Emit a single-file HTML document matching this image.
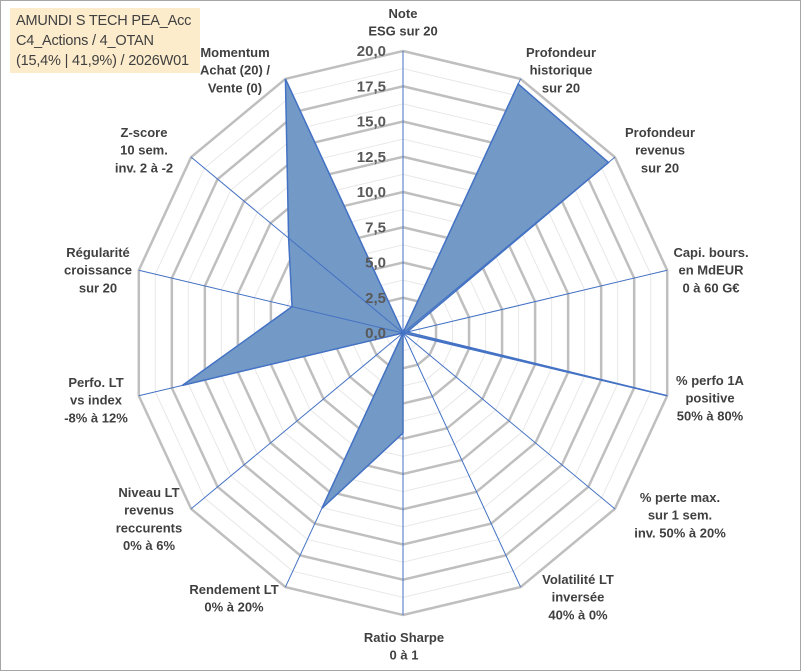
<!DOCTYPE html>
<html><head><meta charset="utf-8"><style>
body{margin:0;background:#fff}
#wrap{position:relative;width:801px;height:671px;overflow:hidden;font-family:"Liberation Sans",sans-serif}
#frame{position:absolute;left:0;top:0;width:799px;height:669px;border:1px solid #a6a6a6}
#title{position:absolute;left:10px;top:8px;width:190px;height:65px;background:#fdeccc;color:#404040;font-size:14.5px;line-height:20px;padding:3px 0 0 6px;box-sizing:border-box;white-space:nowrap;letter-spacing:-0.2px}
.lbl{font-weight:bold;font-size:13px;fill:#404040;text-anchor:middle}
.tick{font-weight:bold;font-size:15px;fill:#595959;text-anchor:end}
</style></head><body>
<div id="wrap">
<div id="frame"></div>
<svg id="chart" width="801" height="671" style="position:absolute;left:0;top:0"></svg>
<div id="title">AMUNDI S TECH PEA_Acc<br>C4_Actions / 4_OTAN<br>(15,4% | 41,9%) / 2026W01</div>
</div>
<script>
const categories=[["Note","ESG sur 20"],["Profondeur","historique","sur 20"],["Profondeur","revenus","sur 20"],["Capi. bours.","en MdEUR","0 à 60 G€"],["% perfo 1A","positive","50% à 80%"],["% perte max.","sur 1 sem.","inv. 50% à 20%"],["Volatilité LT","inversée","40% à 0%"],["Ratio Sharpe","0 à 1"],["Rendement LT","0% à 20%"],["Niveau LT","revenus","reccurents","0% à 6%"],["Perfo. LT","vs index","-8% à 12%"],["Régularité","croissance","sur 20"],["Z-score","10 sem.","inv. 2 à -2"],["Momentum","Achat (20) /","Vente (0)"]];
const values=[0,19.6,19.4,0.3,20,0,0,7.1,13.8,0,16.7,8.4,10.8,20];
const tickLabels=["0,0","2,5","5,0","7,5","10,0","12,5","15,0","17,5","20,0"];
const labelPos=[[403,13],[561,52],[660,132],[711,252],[710,380],[680,497],[578,579],[404,637],[234,589],[149,492],[96,382],[98,252],[144,132],[235,52]];
const cx=403,cy=333,rx=271,ry=282,maxV=20;
const svg=document.getElementById('chart');
const NS='http://www.w3.org/2000/svg';
const N=categories.length;
function pt(i,v){const a=2*Math.PI*i/N;return [cx+rx*v/maxV*Math.sin(a),cy-ry*v/maxV*Math.cos(a)];}
function mk(t,attrs){const e=document.createElementNS(NS,t);for(const k in attrs)e.setAttribute(k,attrs[k]);svg.appendChild(e);return e;}
for(let s=1;s<=16;s++){const v=s*1.25;const major=s%2==0;
 const p=[];for(let i=0;i<N;i++)p.push(pt(i,v).join(','));
 const e=mk('polygon',{points:p.join(' '),fill:'none',stroke:major?'#bfbfbf':'#e8e8e8','stroke-width':major?2.5:1});
 
 }
const dp=values.map((v,i)=>pt(i,v).join(',')).join(' ');
const poly=mk('polygon',{points:dp,fill:'#7399c6',stroke:'#4472c4','stroke-width':1.5});


for(let i=0;i<N;i++){const [x,y]=pt(i,maxV);
 const l=mk('line',{x1:cx,y1:cy,x2:x,y2:y,stroke:'#4472c4','stroke-width':1});
 
 }
tickLabels.forEach((t,k)=>{const e=mk('text',{x:386,y:cy-ry*(k*2.5)/maxV+5,class:'tick'});e.textContent=t;
 
 });
categories.forEach((lines,i)=>{const [x,y]=labelPos[i];
 const e=mk('text',{x:x,y:y+5,class:'lbl'});
 
 
 lines.forEach((ln,j)=>{const ts=document.createElementNS(NS,'tspan');ts.setAttribute('x',x);ts.setAttribute('y',y+5+j*17.7);ts.textContent=ln;e.appendChild(ts);});});
</script>
</body></html>
